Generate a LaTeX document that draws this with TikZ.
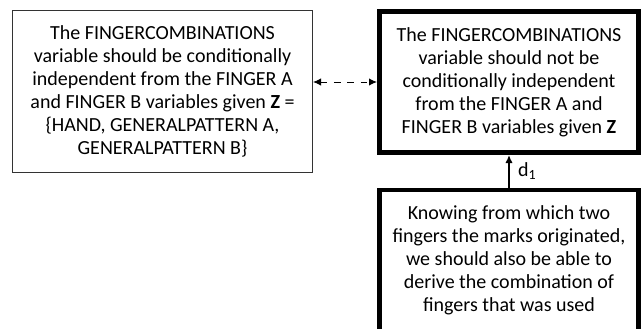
\documentclass[tikz,border=0pt]{standalone}
\usepackage{fontspec}
\setmainfont{Carlito}
\usetikzlibrary{arrows.meta}

\begin{document}
\begin{tikzpicture}[x=0.75pt, y=-0.75pt,
  font=\fontsize{15}{17.3}\selectfont,
  >={Latex[length=6pt, width=5.5pt]},
  plainbox/.style={draw=black!80, line width=0.75pt, fill=white, align=center,
    inner sep=0pt, minimum width=225pt, minimum height=121.5pt},
  boldbox/.style={draw=black, line width=3.5pt, fill=white, align=center,
    inner sep=0pt, minimum width=194.5pt, minimum height=106pt}]
  \useasboundingbox (0, 0) rectangle (644, 329);

  % draw the two hypotheses
  \node[plainbox] (indep) at (162.5, 91.5) {The FINGERCOMBINATIONS\\
    variable should be conditionally\\
    independent from the FINGER A\\
    and FINGER B variables given \textbf{Z} =\\
    \{HAND, GENERALPATTERN A,\\
    GENERALPATTERN B\}};
  \node[boldbox] (dep) at (509, 82) {The FINGERCOMBINATIONS\\
    variable should not be\\
    conditionally independent\\
    from the FINGER A and\\
    FINGER B variables given \textbf{Z}};

  % draw the knowledge box
  \node[boldbox] (know) at (509, 260.5) {Knowing from which two\\
    fingers the marks originated,\\
    we should also be able to\\
    derive the combination of\\
    fingers that was used};

  % draw the connectors
  \draw[<->, line width=0.75pt, dash pattern=on 5pt off 5pt]
    (indep.east |- dep.west) -- (dep.west);
  \draw[->, line width=1.1pt] (know.north) -- node[right=3pt] {d\textsubscript{1}} (dep.south);
\end{tikzpicture}
\end{document}
